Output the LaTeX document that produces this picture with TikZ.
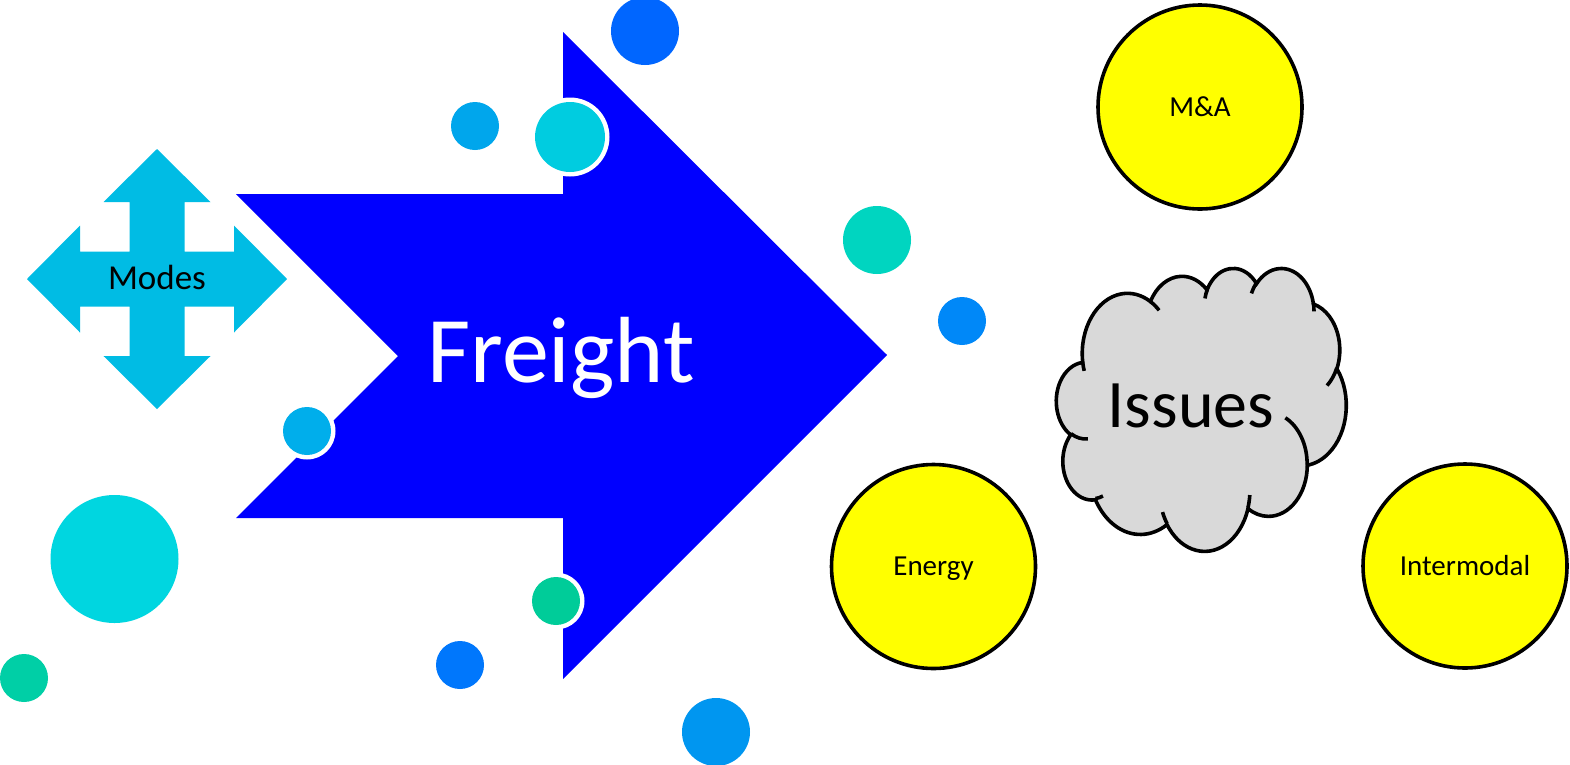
\documentclass[tikz,border=0pt]{standalone}
\usepackage{fontspec}
\setmainfont{Carlito}
\definecolor{arrowblue}{HTML}{0000FF}
\definecolor{modescyan}{HTML}{00BCE4}
\definecolor{cloudgray}{HTML}{D9D9D9}
\definecolor{sunyellow}{HTML}{FFFF00}
\definecolor{cA}{HTML}{0066FF}
\definecolor{cB}{HTML}{00A6EC}
\definecolor{cC}{HTML}{00CCE0}
\definecolor{cD}{HTML}{00D5C0}
\definecolor{cE}{HTML}{0088F8}
\definecolor{cF}{HTML}{00D6E0}
\definecolor{cG}{HTML}{00CFA6}
\definecolor{cH}{HTML}{0077FC}
\definecolor{cI}{HTML}{0096F0}
\definecolor{cJ}{HTML}{00AEEB}
\definecolor{cK}{HTML}{00CC99}
\newcommand\cldprep[5]{%
  \pgfmathsetmacro\cldtmpS{atan2((#2)*sin(#4),(#3)*cos(#4))}%
  \pgfmathsetmacro\cldtmpE{atan2((#2)*sin((#4)+(#5)),(#3)*cos((#4)+(#5)))}%
  \pgfmathsetmacro\cldtmpD{mod(\cldtmpE-\cldtmpS+720,360)}%
  \expandafter\xdef\csname cldS#1\endcsname{\cldtmpS}%
  \expandafter\xdef\csname cldD#1\endcsname{\cldtmpD}%
}
% outline arcs
\cldprep{a}{67.53}{91.90}{-190.4875}{123.7805}
\cldprep{b}{53.33}{72.67}{-144.1024}{89.9452}
\cldprep{c}{43.65}{59.45}{-145.8079}{99.7230}
\cldprep{d}{48.57}{65.95}{-130.9861}{117.2417}
\cldprep{e}{53.33}{72.73}{-78.7089}{109.0269}
\cldprep{f}{67.75}{92.20}{-46.2673}{130.2690}
\cldprep{g}{57.85}{78.67}{0.6250}{114.0333}
\cldprep{h}{67.52}{92.15}{22.4516}{115.1726}
\cldprep{i}{77.20}{105.43}{66.2426}{75.7110}
\cldprep{j}{43.60}{59.18}{-274.9421}{146.7356}
\cldprep{k}{43.45}{59.45}{-246.8285}{152.5189}
% inner curls
\cldprep{ma}{43.45}{59.45}{86.7420}{26.4295}
\cldprep{mb}{43.60}{59.18}{73.6105}{11.4475}
\cldprep{mc}{67.52}{92.15}{137.6242}{14.0811}
\cldprep{md}{67.52}{92.15}{6.4533}{15.9984}
\cldprep{me}{57.85}{78.67}{-70.2924}{70.9174}
\cldprep{mf}{53.33}{72.73}{30.3180}{27.7515}
\cldprep{mg}{48.57}{65.95}{-13.7443}{14.8512}
\cldprep{mh}{48.57}{65.95}{-149.1815}{18.1963}
\cldprep{mi}{43.65}{59.45}{-163.4943}{17.6962}
\cldprep{mj}{67.53}{91.90}{-66.7070}{12.3194}
\cldprep{mk}{67.53}{91.90}{157.6544}{11.8582}
\begin{document}
\begin{tikzpicture}[x=1pt,y=-1pt,
  yell/.style={circle,draw=black,line width=3.6pt,fill=sunyellow,minimum size=204pt,inner sep=0pt,
    text height=21pt,text depth=3pt,font=\fontsize{29}{35}\selectfont},
  cloudline/.style={draw=black,line width=3.6pt},
  ring/.style={fill=white},
]
\useasboundingbox[fill=white] (0,0) rectangle (1570,764);

% big arrow
\fill[arrowblue] (236,194) -- (563,194) -- (563,32) -- (887,355) -- (563,679)
  -- (563,518) -- (236,518) -- (398,356) -- cycle;
\node[anchor=base,text=white,font=\fontsize{94}{110}\selectfont,inner sep=0pt] (freight) at (561,382) {Freight};

% modes cross
\begin{scope}[shift={(157,279)}]
\fill[modescyan] (0,-130) -- (53.5,-77) -- (27.5,-77) -- (27.5,-27.5) -- (77,-27.5) -- (77,-53.5)
  -- (130,0) -- (77,53.5) -- (77,27.5) -- (27.5,27.5) -- (27.5,77) -- (53.5,77)
  -- (0,130) -- (-53.5,77) -- (-27.5,77) -- (-27.5,27.5) -- (-77,27.5) -- (-77,53.5)
  -- (-130,0) -- (-77,-53.5) -- (-77,-27.5) -- (-27.5,-27.5) -- (-27.5,-77) -- (-53.5,-77) -- cycle;
\end{scope}
\node[anchor=base,font=\fontsize{35}{42}\selectfont,inner sep=0pt] (modes) at (157,289) {Modes};

% decorative dots
\fill[cA] (645,31) circle[radius=34];
\fill[cB] (475,126) circle[radius=24];
\fill[ring] (570,137) circle[radius=39.5];
\fill[cC] (570,137) circle[radius=35];
\fill[cD] (877,240) circle[radius=34];
\fill[cE] (962,321) circle[radius=24];
\fill[cF] (114.5,559) circle[radius=64];
\fill[cG] (24,678) circle[radius=24];
\fill[cH] (460,665) circle[radius=24];
\fill[cI] (716,732) circle[radius=34];
\fill[ring] (307,431) circle[radius=28.5];
\fill[cJ] (307,431) circle[radius=24];
\fill[ring] (556,601) circle[radius=28.5];
\fill[cK] (556,601) circle[radius=24];

% yellow circles
\node[yell] (ma) at (1200,107) {M\&A};
\node[yell] (energy) at (933.5,566.5) {Energy};
\node[yell] (intermodal) at (1465,566) {Intermodal};

% cloud
\begin{scope}[shift={(1056.5,267.5)},x=0.6705pt,y=-0.6548pt]
\path[cloudline,fill=cloudgray] (39.00,143.70)
  arc[x radius=67.53,y radius=91.90,start angle=\cldSa,delta angle=\cldDa]
  arc[x radius=53.33,y radius=72.67,start angle=\cldSb,delta angle=\cldDb]
  arc[x radius=43.65,y radius=59.45,start angle=\cldSc,delta angle=\cldDc]
  arc[x radius=48.57,y radius=65.95,start angle=\cldSd,delta angle=\cldDd]
  arc[x radius=53.33,y radius=72.73,start angle=\cldSe,delta angle=\cldDe]
  arc[x radius=67.75,y radius=92.20,start angle=\cldSf,delta angle=\cldDf]
  arc[x radius=57.85,y radius=78.67,start angle=\cldSg,delta angle=\cldDg]
  arc[x radius=67.52,y radius=92.15,start angle=\cldSh,delta angle=\cldDh]
  arc[x radius=77.20,y radius=105.43,start angle=\cldSi,delta angle=\cldDi]
  arc[x radius=43.60,y radius=59.18,start angle=\cldSj,delta angle=\cldDj]
  arc[x radius=43.45,y radius=59.45,start angle=\cldSk,delta angle=\cldDk]
  -- cycle;
\draw[cloudline] (46.93,261.77) arc[x radius=43.45,y radius=59.45,start angle=\cldSma,delta angle=\cldDma];
\draw[cloudline] (69.28,348.99) arc[x radius=43.60,y radius=59.18,start angle=\cldSmb,delta angle=\cldDmb];
\draw[cloudline] (164.78,390.90) arc[x radius=67.52,y radius=92.15,start angle=\cldSmc,delta angle=\cldDmc];
\draw[cloudline] (288.27,347.51) arc[x radius=67.52,y radius=92.15,start angle=\cldSmd,delta angle=\cldDmd];
\draw[cloudline] (341.29,229.54) arc[x radius=57.85,y radius=78.67,start angle=\cldSme,delta angle=\cldDme];
\draw[cloudline] (417.98,153.54) arc[x radius=53.33,y radius=72.73,start angle=\cldSmf,delta angle=\cldDmf];
\draw[cloudline] (383.24,54.26) arc[x radius=48.57,y radius=65.95,start angle=\cldSmg,delta angle=\cldDmg];
\draw[cloudline] (290.78,39.52) arc[x radius=48.57,y radius=65.95,start angle=\cldSmh,delta angle=\cldDmh];
\draw[cloudline] (221.41,47.20) arc[x radius=43.65,y radius=59.45,start angle=\cldSmi,delta angle=\cldDmi];
\draw[cloudline] (140.00,51.92) arc[x radius=67.53,y radius=91.90,start angle=\cldSmj,delta angle=\cldDmj];
\draw[cloudline] (41.27,157.89) arc[x radius=67.53,y radius=91.90,start angle=\cldSmk,delta angle=\cldDmk];
\end{scope}
\node[anchor=base,font=\fontsize{68}{80}\selectfont,inner sep=0pt] (issues) at (1191,427) {Issues};
\end{tikzpicture}
\end{document}
